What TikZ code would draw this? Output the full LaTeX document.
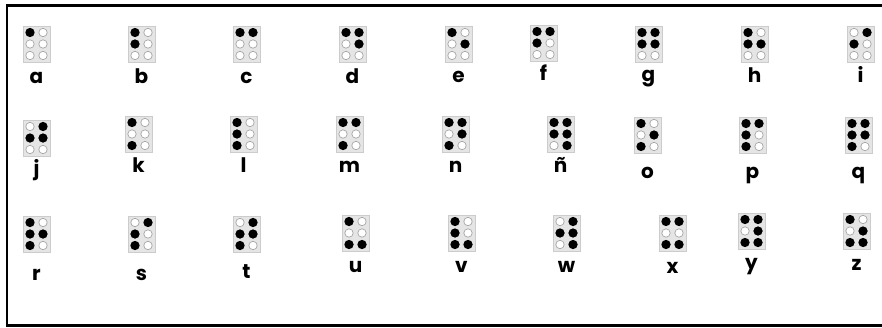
\documentclass[tikz,border=0pt]{standalone}
\usepackage{fontspec}
\newfontfamily\labfont{Poppins}
\newcommand\bcell[6]{%
  \node[cellbox] (cell#1) at (#2,#3) {};
  \foreach \d in {1,...,6}{%
    \pgfmathsetmacro\cx{#2+(\d>3?20:7)}%
    \pgfmathsetmacro\cy{#3+6.5+11.5*mod(\d-1,3)}%
    \path[holl] (\cx,\cy) circle (4.2pt);}
  \foreach \d in {#6}{%
    \pgfmathsetmacro\cx{#2+(\d>3?20:7)}%
    \pgfmathsetmacro\cy{#3+6.5+11.5*mod(\d-1,3)}%
    \path[fulldot] (\cx,\cy) circle (4.6pt);}
  \node[lab] (lab#1) at (#2+13.5,#5) {#4};
}
\begin{document}
\begin{tikzpicture}[x=1pt,y=-1pt,
  cellbox/.style={draw=black!20, fill=black!10, line width=0.8pt, minimum width=27pt, minimum height=36pt, inner sep=0pt, anchor=north west},
  holl/.style={draw=black!35, fill=white, line width=0.7pt},
  fulldot/.style={fill=black},
  lab/.style={font=\labfont\bfseries\fontsize{20}{20}\selectfont, anchor=base, inner sep=0pt},
  myframe/.style={line width=2.5pt}]
\useasboundingbox (0,0) rectangle (882,327);
\fill[white] (0,0) rectangle (882,327);
\coordinate (tr) at (882,5.5);
\coordinate (tl) at (7,5.5);
\coordinate (bl) at (7,325.5);
\coordinate (br) at (882,325.5);
\draw[myframe] (tr) -- (tl) -- (bl) -- (br);
% row 1
\bcell{a}{23}{26}{a}{83}{1}
\bcell{b}{128}{26}{b}{83}{1,2}
\bcell{c}{233}{26}{c}{83}{1,4}
\bcell{d}{339}{26}{d}{83}{1,4,5}
\bcell{e}{445}{26}{e}{82}{1,5}
\bcell{f}{530}{25}{f}{80}{1,4,2}
\bcell{g}{635}{26}{g}{81}{1,4,2,5}
\bcell{h}{741}{26}{h}{82}{1,2,5}
\bcell{i}{847}{26}{i}{82}{4,2}
% row 2
\bcell{j}{23}{120}{j}{175}{4,2,5}
\bcell{k}{125}{116}{k}{172}{1,3}
\bcell{l}{230}{116}{l}{172}{1,2,3}
\bcell{m}{336}{116}{m}{172}{1,4,3}
\bcell{n}{442}{116}{n}{172}{1,4,5,3}
\bcell{nn}{547}{116}{ñ}{172}{1,4,2,5,6}
\bcell{o}{634}{117}{o}{178}{1,5,3}
\bcell{p}{739}{117}{p}{178}{1,4,2,3}
\bcell{q}{845}{117}{q}{178}{1,4,2,5,3}
% row 3
\bcell{r}{23}{216}{r}{280}{1,2,5,3}
\bcell{s}{128}{216}{s}{280}{4,2,3}
\bcell{t}{233}{216}{t}{278}{4,2,5,3}
\bcell{u}{342}{215}{u}{272}{1,3,6}
\bcell{v}{448}{215}{v}{272}{1,2,3,6}
\bcell{w}{553}{215}{w}{272}{4,2,5,6}
\bcell{x}{659}{215}{x}{273}{1,4,3,6}
\bcell{y}{738}{213}{y}{269}{1,4,5,3,6}
\bcell{z}{843}{213}{z}{270}{1,5,3,6}
\end{tikzpicture}
\end{document}
